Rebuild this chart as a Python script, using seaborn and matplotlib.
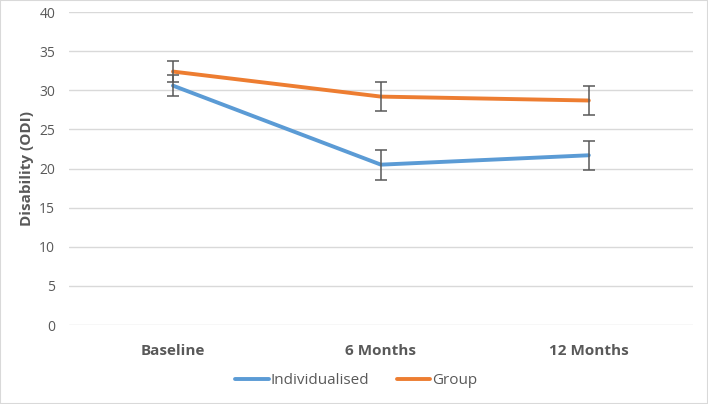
import matplotlib
matplotlib.use("Agg")
import matplotlib.pyplot as plt
import seaborn as sns
import pandas as pd

timepoints = ["Baseline", "6 Months", "12 Months"]
individualised = [30.6, 20.5, 21.7]
individualised_err = [1.3, 1.9, 1.85]
group = [32.4, 29.2, 28.7]
group_err = [1.35, 1.9, 1.8]

df = pd.DataFrame({
    "time": timepoints * 2,
    "odi": individualised + group,
    "err": individualised_err + group_err,
    "arm": ["Individualised"] * 3 + ["Group"] * 3,
})
df["x"] = df["time"].map({t: i for i, t in enumerate(timepoints)})

sns.set_style("white")
plt.rcParams["font.family"] = ["Open Sans", "DejaVu Sans"]

fig = plt.figure(figsize=(7.08, 4.04), dpi=100)
ax = fig.add_axes([0.0975, 0.1955, 0.881, 0.7745])

palette = {"Individualised": "#5B9BD5", "Group": "#ED7D31"}
sns.lineplot(data=df, x="x", y="odi", hue="arm", palette=palette,
             linewidth=2.8, errorbar=None, ax=ax, zorder=3)

for arm, sub in df.groupby("arm"):
    ax.errorbar(sub["x"], sub["odi"], yerr=sub["err"], fmt="none",
                ecolor="#595959", elinewidth=1.1, capsize=4, capthick=1.1, zorder=4)

ax.set_xlim(-0.5, 2.5)
ax.set_ylim(0, 40)
ax.set_yticks(range(0, 41, 5))
ax.set_xticks(range(len(timepoints)))
ax.set_xticklabels(timepoints, fontweight="bold", fontsize=11, color="#595959")
ax.tick_params(axis="y", labelsize=10, labelcolor="#595959", length=0, pad=10)
ax.tick_params(axis="x", length=0, pad=14)
ax.grid(axis="y", color="#D9D9D9", linewidth=1)
ax.set_axisbelow(True)
for s in ax.spines.values():
    s.set_visible(False)
ax.set_xlabel("")
ax.set_ylabel("Disability (ODI)", fontweight="bold", fontsize=11, color="#595959", labelpad=4)

handles, labels = ax.get_legend_handles_labels()
ax.legend(handles, labels, loc="center", bbox_to_anchor=(356 / 708, 1 - 381 / 404),
          bbox_transform=fig.transFigure, ncol=2, frameon=False, fontsize=11,
          handlelength=2.2, handletextpad=0.1, columnspacing=1.8, labelcolor="#595959")

fig.patches.append(plt.Rectangle((0, 0), 1, 1, transform=fig.transFigure,
                                 fill=False, edgecolor="#D9D9D9", linewidth=1.5))
fig.savefig("out.png", dpi=100)
